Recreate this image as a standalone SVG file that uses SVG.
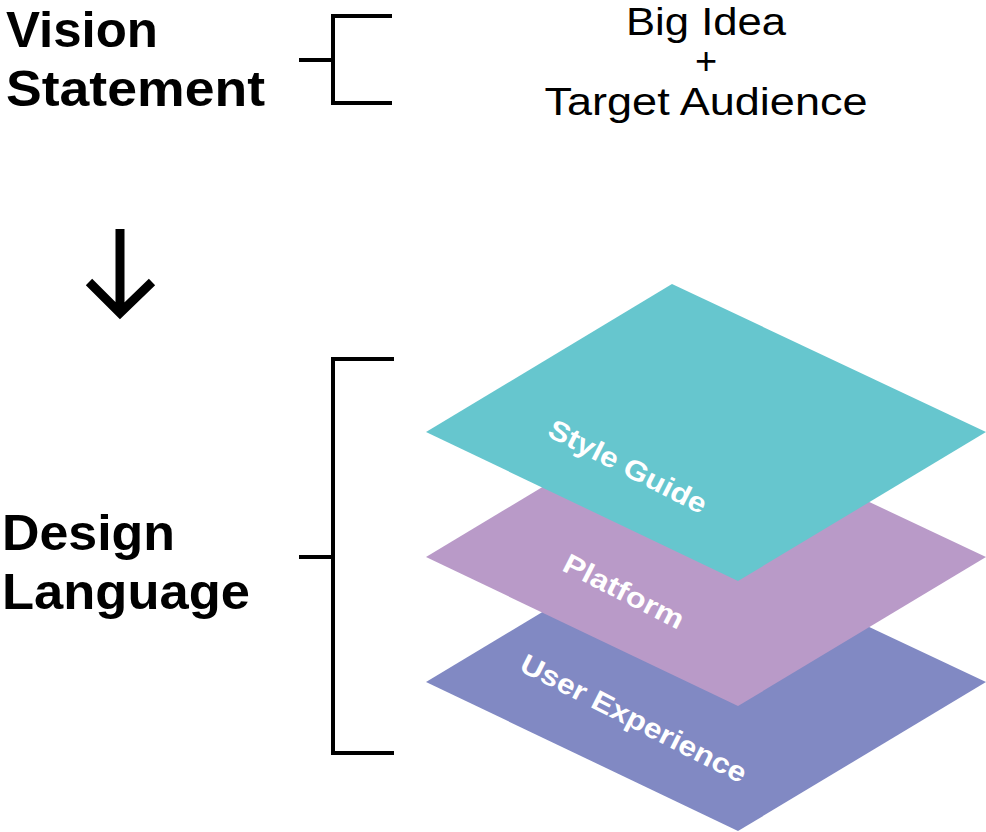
<svg xmlns="http://www.w3.org/2000/svg" width="986" height="832" viewBox="0 0 986 832">
<style>
.head{font-family:"Liberation Sans",Arial,sans-serif;font-weight:bold;font-size:50px;fill:#000}
.note{font-family:"Liberation Sans",Arial,sans-serif;font-size:38px;fill:#000;text-anchor:middle}
.lbl{font-family:"Liberation Sans",Arial,sans-serif;font-weight:bold;font-size:28px;fill:#fff;text-anchor:middle}
.ln{fill:none;stroke:#000;stroke-width:4}
</style>
<rect width="986" height="832" fill="#fff"/>
<g id="vision">
<text class="head" x="6" y="47" textLength="152" lengthAdjust="spacingAndGlyphs">Vision</text>
<text class="head" x="6" y="106" textLength="259" lengthAdjust="spacingAndGlyphs">Statement</text>
</g>
<g id="vision-content">
<text class="note" x="706" y="35" textLength="160" lengthAdjust="spacingAndGlyphs">Big Idea</text>
<text class="note" x="706" y="74">+</text>
<text class="note" x="706" y="115" textLength="323" lengthAdjust="spacingAndGlyphs">Target Audience</text>
</g>
<g id="design">
<text class="head" x="2" y="550" textLength="173" lengthAdjust="spacingAndGlyphs">Design</text>
<text class="head" x="2" y="609" textLength="248" lengthAdjust="spacingAndGlyphs">Language</text>
</g>
<g id="layer-ux">
<polygon points="672,534 986,682 738,831 426,682" fill="#8189C3"/>
<text class="lbl" transform="translate(634,718) rotate(27)" y="10" textLength="250" lengthAdjust="spacingAndGlyphs">User Experience</text>
</g>
<g id="layer-platform">
<polygon points="672,409 986,557 738,706 426,557" fill="#B99AC8"/>
<text class="lbl" transform="translate(624,591) rotate(27)" y="10" textLength="132" lengthAdjust="spacingAndGlyphs">Platform</text>
</g>
<g id="layer-style">
<polygon points="672,284 986,432 738,581 426,432" fill="#66C6CE"/>
<text class="lbl" transform="translate(628,466) rotate(27)" y="10" textLength="174" lengthAdjust="spacingAndGlyphs">Style Guide</text>
</g>
<g id="connectors">
<path class="ln" d="M392,16 H333 V103 H392 M299,60 H333"/>
<path class="ln" d="M394,359 H333 V753 H394 M299,557 H333"/>
<path fill="none" stroke="#000" stroke-width="9" d="M120,229 V314 M89,282 L120,313 L152,282"/>
</g>
</svg>
